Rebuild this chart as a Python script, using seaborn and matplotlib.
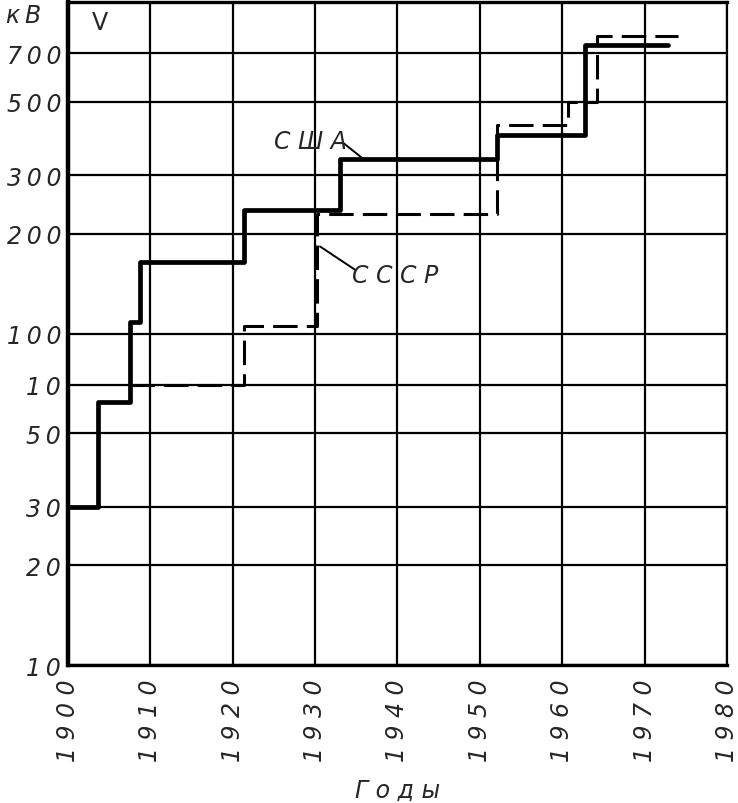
import numpy as np
import pandas as pd
import seaborn as sns
import matplotlib.pyplot as plt

# step data (year, kV)
usa_years = [1900, 1903.6, 1907.5, 1908.8, 1921.4, 1933.0, 1952.1, 1962.8, 1972.8]
usa_kv = [30, 62, 108, 164, 235, 337, 396, 740, 740]

ussr_years = [1907.5, 1921.4, 1930.2, 1952.1, 1960.7, 1964.2, 1974.0]
ussr_kv = [70, 105, 230, 426, 500, 788, 788]

y_ticks = [10, 20, 30, 50, 70, 100, 200, 300, 500, 700]
y_labels = ["10", "20", "30", "50", "10", "100", "200", "300", "500", "700"]
x_ticks = [1900, 1910, 1920, 1930, 1940, 1950, 1960, 1970, 1980]

TS = "\u2009"  # thin space, the drafting font is widely spaced

sns.set_style("white")
plt.rcParams['font.family'] = ['DejaVu Sans']

fig = plt.figure(figsize=(7.38, 8.04), dpi=100)
ax = fig.add_axes([0.0921, 0.1716, 0.8930, 0.8247])

usa = pd.DataFrame({"year": usa_years, "kv": usa_kv})
ussr = pd.DataFrame({"year": ussr_years, "kv": ussr_kv})

sns.lineplot(data=usa, x="year", y="kv", ax=ax, color="black", lw=3.4,
             drawstyle="steps-post", zorder=4)
sns.lineplot(data=ussr, x="year", y="kv", ax=ax, color="black", lw=2.2,
             drawstyle="steps-post", linestyle=(0, (8, 3)), zorder=3)

ax.set_yscale("log")
ax.set_xlim(1900, 1980)
ax.set_ylim(10, 1000)
ax.minorticks_off()
ax.set_yticks(y_ticks)
ax.set_yticklabels([TS.join(s) for s in y_labels], fontsize=17, style="italic")
ax.set_xticks(x_ticks)
ax.set_xticklabels([" ".join(str(t)) for t in x_ticks], rotation=90,
                   fontsize=17, style="italic")
ax.tick_params(axis="y", length=0, pad=5)
ax.tick_params(axis="x", length=0, pad=10)
ax.grid(True, color="black", lw=1.6)
ax.set_axisbelow(True)

for side, w in [("left", 3.2), ("bottom", 2.4), ("top", 2.4), ("right", 1.6)]:
    ax.spines[side].set_visible(True)
    ax.spines[side].set_color("black")
    ax.spines[side].set_linewidth(w)

ax.set_xlabel("Г о д ы", fontsize=17, style="italic", labelpad=12)
ax.set_ylabel("")

ax.text(-0.04, 0.98, "к" + TS + "В", transform=ax.transAxes, fontsize=17,
        style="italic", ha="right", va="center")
ax.text(0.048, 0.97, "V", transform=ax.transAxes, fontsize=17,
        ha="center", va="center")

ax.text(1929.4, 382, "С Ш А", fontsize=17, style="italic", ha="center",
        va="center")
ax.plot([1933.4, 1935.8], [376, 337], color="black", lw=1.4)
ax.text(1939.7, 150, "С С С Р", fontsize=17, style="italic", ha="center",
        va="center")
ax.plot([1930.6, 1934.8], [183, 156], color="black", lw=1.4)

plt.savefig("out.png", dpi=100)
